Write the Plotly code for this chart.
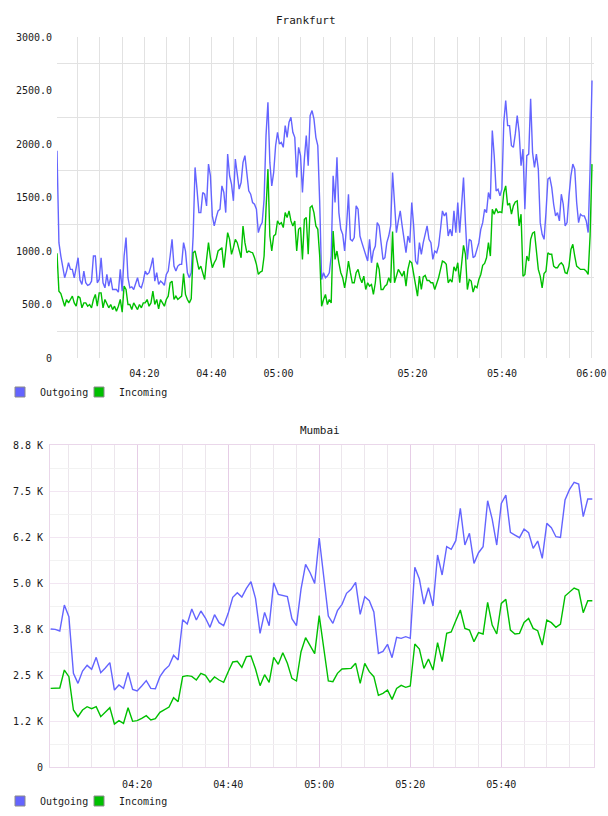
import plotly.graph_objects as go
import pandas as pd

# ---------------- data ----------------
# Frankfurt (one sample every ~2 px of the original chart, index axis)
fr_out = [1937,1078,953,859,750,812,890,828,828,750, 859,937,728,687,812,703,678,687,718,953,
          953,703,734,937,703,656,781,672,750,640, 640,640,615,828,625,953,1125,750,656,665,
          640,703,750,672,656,718,812,781,797,859, 937,718,797,687,718,703,678,781,812,953,
          1109,859,812,859,875,875,1078,1000,797,750, 797,1140,1781,1578,1359,1359,1547,1531,1422,1812,
          1703,1328,1234,1312,1375,1390,1609,1547,1359,1906, 1703,1625,1469,1859,1734,1578,1640,1828,
          1891,1703,1562,1531,1453,1437,1390,1172,1234,1265, 1484,2078,2390,1828,1609,1734,1984,2109,2000,2015,
          1969,2172,2062,2203,2250,2109,2062,1687,1969,1891, 1547,1859,2078,1797,2265,2312,2234,2062,1984,1453,
          734,797,750,765,797,953,1703,1453,1875,1359, 1203,1156,1000,1234,1531,1109,1094,1125,1422,1390,
          1140,1078,1015,969,906,1109,890,1000,1047,1265, 1234,1078,922,937,1078,1140,1234,1734,1469,1172,
          1281,1375,1234,1109,984,1140,1078,1453,1234,906, 875,1078,969,
          1078,1172,1234,1109,1078,922,1000,984,1047,1203, 1375,1328,1359,1140,1203,1140,1375,1172,1453,1172,
          1484,1687,1265,922,1109,1094,937,953,1015,1078, 1203,1265,1390,1359,1547,1484,2125,1891,1562,1578,
          1515,1578,2203,2406,2172,2172,1984,1969,2094,2265, 2109,1797,1953,1390,1891,1906,2422,1922,1781,1906,
          1765,1265,1156,1109,1359,1672,1687,1594,1437,1328, 1359,1281,1531,1437,1234,1265,1515,1703,1812,1765,
          1453,1265,1344,1328,1328,1281,1172,1765,2594]
fr_in = [978,625,603,547,484,547,515,547,578,515, 484,578,562,469,515,515,484,500,469,547,
         594,484,609,609,469,547,515,469,500,453, 484,437,484,547,428,672,640,500,500,453,
         515,484,453,500,469,515,515,547,484,515, 625,500,547,459,547,515,484,547,578,703,
         718,547,578,547,562,578,790,594,547,515, 553,984,1000,906,828,859,797,734,922,1078,
         937,844,890,922,1000,1015,1031,844,1031,1172, 1109,969,1031,1109,1078,1000,937,1234,
         1078,984,1000,990,984,937,875,781,803,812, 953,1390,1765,1140,1000,1140,1156,1281,1250,1265,
         1219,1359,1312,1375,1281,1234,1281,1000,1203,1219, 922,1297,1312,969,1406,1422,1359,1234,1203,953,
         484,547,594,500,547,515,1187,922,1000,890, 797,750,656,765,906,797,703,703,797,828,
         750,703,765,640,703,672,687,594,703,890, 828,640,640,672,687,750,703,1181,703,765,
         828,797,765,812,672,828,906,890,797,703, 578,765,640,
         759,772,725,725,703,703,640,694,750,828, 906,897,875,703,734,709,853,812,890,703,
         890,1053,969,640,734,719,616,672,656,734, 781,866,884,937,1078,953,1390,1344,1397,1359,
         1366,1359,1547,1609,1428,1447,1344,1422,1459,1469, 1234,1344,765,781,953,906,1109,1166,1178,1015,
         828,765,656,790,812,984,969,969,859,844, 844,875,890,866,797,790,859,1015,1062,953,
         859,844,828,828,828,812,781,1140,1812]
fr_tick_labels = ["04:20", "04:40", "05:00", "05:20", "05:40", "06:00"]
fr_tick_slots = [3, 6, 9, 15, 19, 23]          # which vertical grid line carries each label
fr_y_ticks = [0, 500, 1000, 1500, 2000, 2500, 3000]
fr_y_labels = ["0", "500.0", "1000.0", "1500.0", "2000.0", "2500.0", "3000.0"]

# Mumbai (one sample per minute, 04:01 .. 06:00)
mu_start = "2024-01-01 04:01"
mu_out = [3750,3741,3695,4402,4085,2545,2273,2608,2762,2653, 2980,2563,2690,2835,2092,2228,2137,2572,2110,2065,
          2201,2346,2137,2128,2454,2635,2753,3034,2907,4003, 3885,4293,3994,4239,4048,3795,4139,3922,3840,4175,
          4610,4737,4619,4855,5035,4582,3632,4202,3840,5008, 4691,4664,4628,4030,3840,4836,5506,5280,4990,6222,
          5171,4103,3903,4248,4420,4719,4827,5017,4148,4628, 4519,4211,3088,3143,3333,2971,3523,3496,3541,3496,
          5425,5108,4429,4872,4374,5760,5217,5986,5914,6150, 7028,6032,6349,5534,5823,5986,7236,6738,6032,7164,
          7390,6376,6303,6231,6466,6367,5941,6140,5669,6620, 6503,6258,6240,7254,7544,7734,7689,6802,7282,7282]
mu_in = [2137,2137,2146,2635,2454,1549,1368,1549,1639,1585, 1639,1368,1485,1612,1168,1259,1186,1612,1241,1259,
         1322,1395,1277,1313,1485,1567,1630,1884,1775,2454, 2482,2463,2364,2545,2490,2309,2445,2364,2300,2590,
         2853,2871,2708,2998,3016,2663,2210,2509,2300,2980, 2789,3107,2817,2409,2337,3134,3514,3297,3080,4112,
         3270,2337,2319,2545,2663,2672,2681,2817,2273,2817, 2590,2454,1947,2001,2092,1838,2137,2219,2164,2201,
         3342,3206,2681,2934,2635,3378,2862,3632,3668,3976, 4266,3767,3722,3406,3650,3614,4474,3858,3614,4447,
         4555,3722,3614,3632,3930,4039,3767,3704,3315,3994, 3922,3795,3885,4646,4745,4863,4809,4193,4519,4519]
mu_major_ticks = ["04:20", "04:40", "05:00", "05:20", "05:40"]
mu_y_ticks = [0, 1250, 2500, 3750, 5000, 6250, 7500, 8750]
mu_y_labels = ["0", "1.2 K", "2.5 K", "3.8 K", "5.0 K", "6.2 K", "7.5 K", "8.8 K"]

series_names = ["Outgoing", "Incoming"]
series_colors = ["#6464ff", "#00c000"]

# ---------------- layout helpers ----------------
W, H = 608, 816
def px(x):
    return x / W
def py(y):
    return 1 - y / H

FONT = "DejaVu Sans Mono"
TXT = "#1a1a1a"

# top axis (index based): first sample at 57px, last at 592px
n = len(fr_out)
u_per_px = (n - 1) / (592 - 57)
grid_idx = [(77.3 - 57 + 22.35 * k) * u_per_px for k in range(24)]
fr_tickvals = [grid_idx[k] for k in fr_tick_slots]

mu_times = pd.date_range(mu_start, periods=len(mu_out), freq="min")
day = "2024-01-01 "
mu_minor = [day + t.strftime("%H:%M") for t in pd.date_range(day + "04:05", day + "05:55", freq="5min")]

fig = go.Figure()
xs = list(range(n))
for name, col, vals in zip(series_names, series_colors, [fr_out, fr_in]):
    fig.add_trace(go.Scatter(x=xs, y=vals, mode="lines", line=dict(color=col, width=1.4),
                             showlegend=False, xaxis="x", yaxis="y", hoverinfo="skip"))
for name, col, vals in zip(series_names, series_colors, [mu_out, mu_in]):
    fig.add_trace(go.Scatter(x=mu_times, y=vals, mode="lines", line=dict(color=col, width=1.4),
                             showlegend=False, xaxis="x2", yaxis="y2", hoverinfo="skip"))
# legend entries (square swatches) + an empty spacer entry so the last label is not clipped
for lg, xa, ya in [("legend", "x", "y"), ("legend2", "x2", "y2")]:
    for name, col in zip(series_names, series_colors):
        fig.add_trace(go.Scatter(x=[None], y=[None], mode="markers", name=name, legend=lg,
                                 marker=dict(symbol="square", size=10, color=col,
                                             line=dict(color="#8a8a8a", width=1)),
                                 xaxis=xa, yaxis=ya))
    fig.add_trace(go.Scatter(x=[None], y=[None], mode="markers", name=" ", legend=lg,
                             marker=dict(size=1, color="rgba(0,0,0,0)"), xaxis=xa, yaxis=ya))

axis_common = dict(automargin=False, zeroline=False, ticks="")

fig.update_layout(
    width=W, height=H, margin=dict(l=0, r=0, t=0, b=0, autoexpand=False),
    paper_bgcolor="white", plot_bgcolor="white",
    font=dict(family=FONT, size=10, color=TXT),
    xaxis=dict(domain=[px(57), px(594)], range=[0, (594 - 57) * u_per_px],
               tickmode="array", tickvals=fr_tickvals, ticktext=fr_tick_labels,
               showgrid=True, gridcolor="#e2e2e2", gridwidth=1, showline=False,
               ticklabelstandoff=8,
               minor=dict(tickmode="array", tickvals=grid_idx, showgrid=True, gridcolor="#e2e2e2"),
               **axis_common),
    yaxis=dict(domain=[py(358), py(37)], range=[0, 3000], tickmode="array",
               tickvals=fr_y_ticks, ticktext=fr_y_labels, showgrid=False,
               showline=False, ticklabelstandoff=4,
               minor=dict(tickmode="array", tickvals=[250 + 500 * k for k in range(6)],
                          showgrid=True, gridcolor="#e2e2e2"),
               **axis_common),
    xaxis2=dict(domain=[px(50), px(594)], anchor="y2", type="date",
                range=[day + "04:00:51", day + "06:00:22"],
                tickmode="array", tickvals=[day + t for t in mu_major_ticks], ticktext=mu_major_ticks,
                showgrid=True, gridcolor="#e6cde6",
                showline=True, mirror=True, linecolor="#ead7ea", linewidth=1,
                ticklabelstandoff=8,
                minor=dict(tickmode="array", tickvals=mu_minor, showgrid=True, gridcolor="#ece6ec"),
                **axis_common),
    yaxis2=dict(domain=[py(767), py(445)], anchor="x2", range=[0, 8750], tickmode="array",
                tickvals=mu_y_ticks, ticktext=mu_y_labels, showgrid=True, gridcolor="#f2e6f2",
                showline=True, mirror=True, linecolor="#ead7ea", linewidth=1,
                ticklabelstandoff=4,
                minor=dict(tickmode="array", tickvals=[625 + 1250 * k for k in range(7)],
                           showgrid=True, gridcolor="#f2f2f2"),
                **axis_common),
    legend=dict(orientation="h", x=px(0), xanchor="left", y=py(392), yanchor="middle",
                bgcolor="rgba(0,0,0,0)", font=dict(family=FONT, size=10, color=TXT),
                entrywidth=34, itemclick=False, itemdoubleclick=False),
    legend2=dict(orientation="h", x=px(0), xanchor="left", y=py(801), yanchor="middle",
                 bgcolor="rgba(0,0,0,0)", font=dict(family=FONT, size=10, color=TXT),
                 entrywidth=34, itemclick=False, itemdoubleclick=False),
    annotations=[
        dict(text="Frankfurt", x=px(306), y=py(20), xref="paper", yref="paper",
             xanchor="center", yanchor="middle",
             showarrow=False, font=dict(family=FONT, size=11, color=TXT)),
        dict(text="Mumbai", x=px(320), y=py(430), xref="paper", yref="paper",
             xanchor="center", yanchor="middle",
             showarrow=False, font=dict(family=FONT, size=11, color=TXT)),
    ],
)

fig.write_html("out.html")
